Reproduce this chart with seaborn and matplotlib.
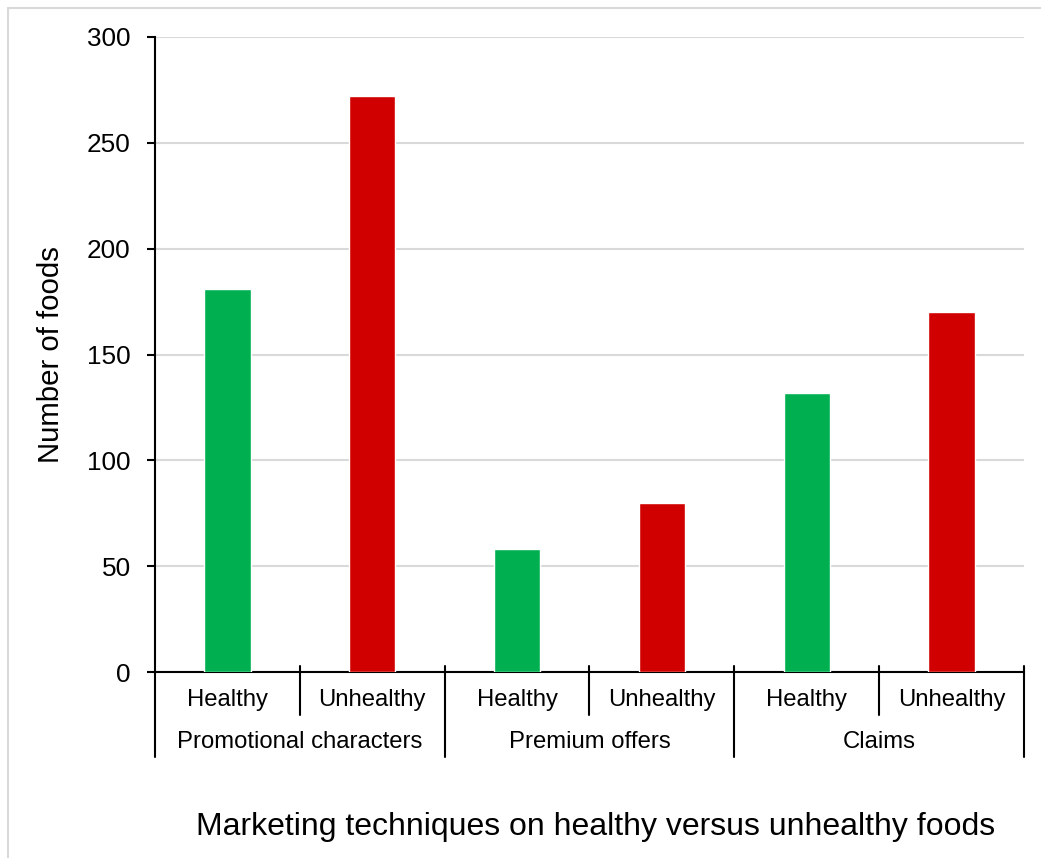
import matplotlib
matplotlib.use("Agg")
import matplotlib.pyplot as plt
import matplotlib.transforms as mtransforms
from matplotlib.patches import Rectangle
import seaborn as sns
import pandas as pd

# Data
techniques = ["Promotional characters", "Premium offers", "Claims"]
food_types = ["Healthy", "Unhealthy"]
healthy_counts = [181, 58, 132]
unhealthy_counts = [272, 80, 170]
y_ticks = [0, 50, 100, 150, 200, 250, 300]

rows = []
for i, tech in enumerate(techniques):
    rows.append({"slot": f"{tech}|Healthy", "type": "Healthy", "count": healthy_counts[i]})
    rows.append({"slot": f"{tech}|Unhealthy", "type": "Unhealthy", "count": unhealthy_counts[i]})
df = pd.DataFrame(rows)
slot_order = list(df["slot"])

sns.set_theme(style="white")
plt.rcParams["font.family"] = ["Liberation Sans", "DejaVu Sans"]

fig = plt.figure(figsize=(10.41, 8.58), dpi=100)
ax = fig.add_axes([155 / 1041, 1 - 672 / 858, (1024 - 155) / 1041, (672 - 37) / 858])

sns.barplot(data=df, x="slot", y="count", hue="type", order=slot_order,
            hue_order=food_types, palette={"Healthy": "#00B050", "Unhealthy": "#D10000"},
            dodge=False, width=0.32, saturation=1, legend=False, ax=ax, zorder=3)

ax.set_xlim(-0.5, len(slot_order) - 0.5)
ax.set_ylim(0, 300)
ax.set_yticks(y_ticks)
ax.set_yticklabels([str(t) for t in y_ticks], fontsize=18.8, color="#000000")
ax.yaxis.grid(True, color="#d9d9d9", linewidth=1.5, zorder=0)
ax.set_axisbelow(True)
ax.tick_params(axis="y", direction="out", length=6, width=1.5, color="black", pad=11.5, left=True)
ax.set_xticks([])
ax.set_xlabel("")
ax.set_ylabel("")

for s in ["top", "right"]:
    ax.spines[s].set_visible(False)
for s in ["left", "bottom"]:
    ax.spines[s].set_color("black")
    ax.spines[s].set_linewidth(1.5)

# Two-level category axis drawn below the plot
px = 1 / (672 - 37)  # one pixel in axes-fraction units
trans = mtransforms.blended_transform_factory(ax.transData, ax.transAxes)
n = len(slot_order)
for k in range(n + 1):
    xb = k - 0.5
    group_edge = (k % 2 == 0)
    y_bottom = -85 * px if group_edge else -43 * px
    y_top = 0 if k == 0 else 6 * px
    ax.plot([xb, xb], [y_top, y_bottom], color="black", linewidth=1.5,
            transform=trans, clip_on=False, zorder=5)

for j, slot in enumerate(slot_order):
    ax.text(j, -28 * px, slot.split("|")[1], transform=trans, ha="center", va="center",
            fontsize=17.2, color="#000000")
for i, tech in enumerate(techniques):
    ax.text(2 * i + 0.5, -70 * px, tech, transform=trans, ha="center", va="center",
            fontsize=17.2, color="#000000")

fig.text(51 / 1041, 1 - 355 / 858, "Number of foods", rotation=90, ha="center", va="center",
         fontsize=21.2, color="#000000")
fig.text(596 / 1041, 1 - 827 / 858, "Marketing techniques on healthy versus unhealthy foods",
         ha="center", va="center", fontsize=23, color="#000000")

# Light chart-area border
fig.patches.append(Rectangle((8 / 1041, -0.01), 1.0, 1 - 8 / 858 + 0.01, transform=fig.transFigure,
                             fill=False, edgecolor="#d9d9d9", linewidth=1.5))

fig.savefig("out.png", dpi=100)
